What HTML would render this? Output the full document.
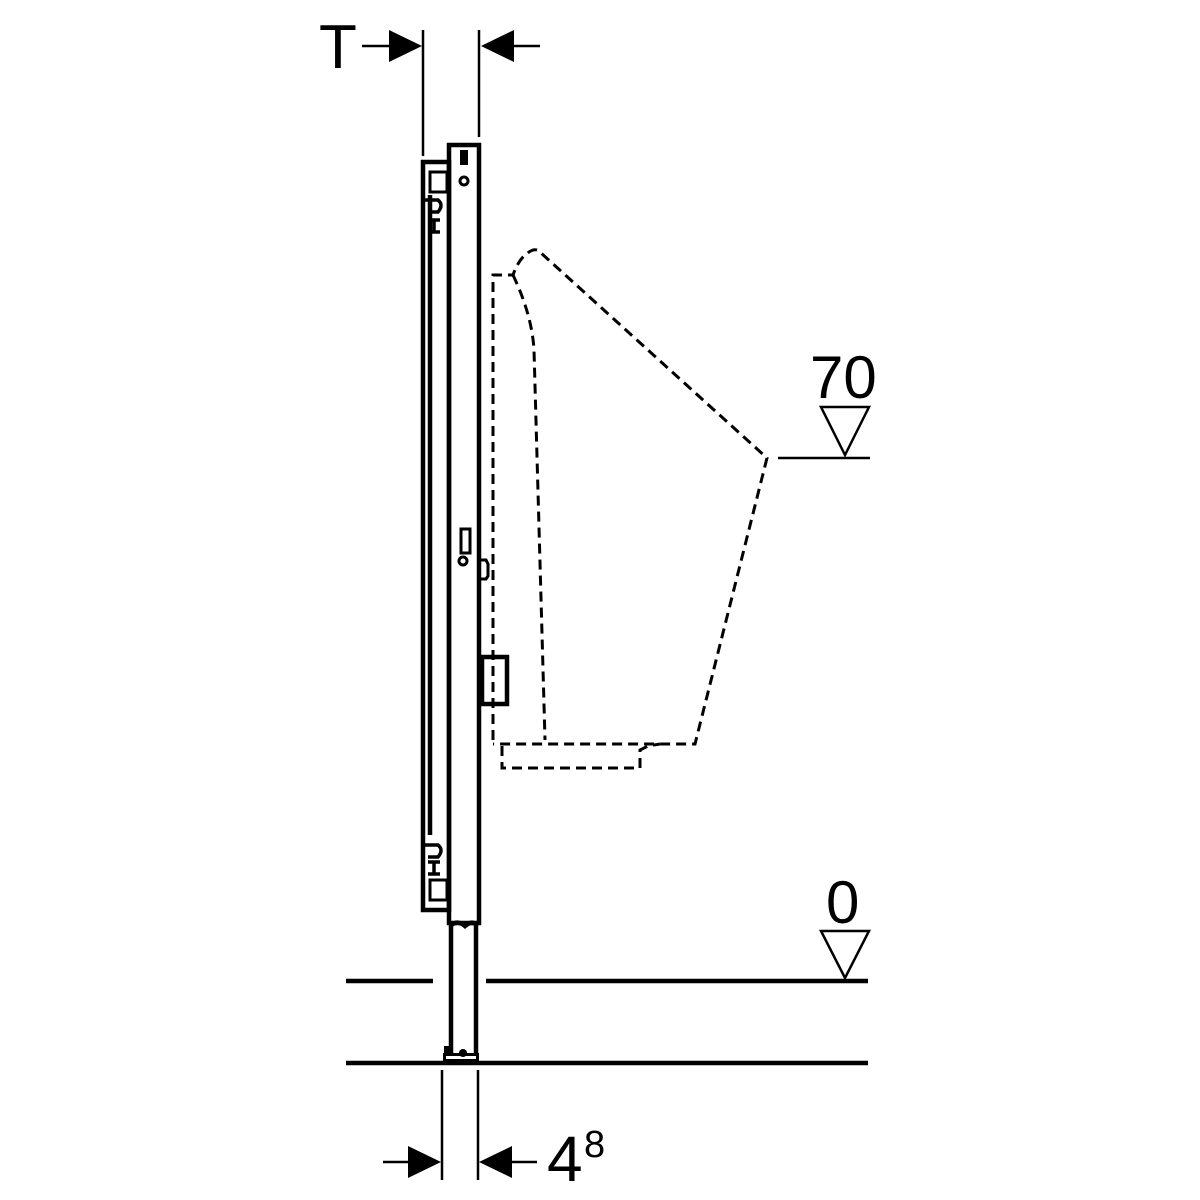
<!DOCTYPE html>
<html><head><style>html,body{margin:0;padding:0;background:#fff}svg{display:block}</style></head>
<body>
<svg width="1200" height="1200" viewBox="0 0 1200 1200" xmlns="http://www.w3.org/2000/svg" font-family="Liberation Sans, sans-serif">
<rect width="1200" height="1200" fill="#fff"/>
<!-- top dimension -->
<text x="319" y="68" font-size="62">T</text>
<line x1="362" y1="46" x2="392" y2="46" stroke="#000" stroke-width="2.5"/>
<polygon points="389,30 422,46 389,62" fill="#000"/>
<line x1="423" y1="30" x2="423" y2="156" stroke="#000" stroke-width="2.5"/>
<line x1="479" y1="30" x2="479" y2="137" stroke="#000" stroke-width="2.5"/>
<polygon points="514,30 481,46 514,62" fill="#000"/>
<line x1="512" y1="46" x2="540" y2="46" stroke="#000" stroke-width="2.5"/>
<!-- bottom dimension -->
<line x1="442" y1="1070" x2="442" y2="1180" stroke="#000" stroke-width="2.5"/>
<line x1="478" y1="1070" x2="478" y2="1180" stroke="#000" stroke-width="2.5"/>
<line x1="383" y1="1162" x2="410" y2="1162" stroke="#000" stroke-width="2.5"/>
<polygon points="408,1146 441,1162 408,1178" fill="#000"/>
<polygon points="512,1146 479,1162 512,1178" fill="#000"/>
<line x1="510" y1="1162" x2="537" y2="1162" stroke="#000" stroke-width="2.5"/>
<text x="547" y="1181" font-size="64">4</text>
<text x="584" y="1157" font-size="38">8</text>
<!-- floor lines -->
<line x1="346" y1="981" x2="433" y2="981" stroke="#000" stroke-width="4.5"/>
<line x1="486" y1="981" x2="868" y2="981" stroke="#000" stroke-width="4.5"/>
<line x1="346" y1="1063" x2="868" y2="1063" stroke="#000" stroke-width="4.5"/>
<!-- levels -->
<text x="810" y="398" font-size="60">70</text>
<polygon points="821,407 869,407 845,455" fill="none" stroke="#000" stroke-width="2.5"/>
<line x1="778" y1="458" x2="870" y2="458" stroke="#000" stroke-width="2.5"/>
<text x="826" y="923" font-size="60">0</text>
<polygon points="821,931 869,931 845,978" fill="none" stroke="#000" stroke-width="2.5"/>
<!-- frame -->
<g fill="none" stroke="#000" stroke-width="4.5">
<rect x="449" y="145" width="30" height="778"/>
<rect x="423" y="162" width="26" height="748"/>
<line x1="430" y1="195" x2="430" y2="835"/>
<path d="M451,923 L451,1058 M476,923 L476,1058"/>
<path d="M451,925 Q458,920 465,926 Q472,920 477,925"/>
<rect x="482" y="657" width="25" height="47"/>
<rect x="461" y="529" width="9" height="24" stroke-width="3"/>
<path d="M479,560 L486,560 L488,564 L488,576 L486,579 L479,579" stroke-width="3"/>
<rect x="430" y="172" width="17" height="20" stroke-width="3"/>
<rect x="430" y="880" width="17" height="20" stroke-width="3"/>
</g>
<rect x="460" y="150" width="8" height="15" fill="#000"/>
<circle cx="464" cy="181" r="4" fill="none" stroke="#000" stroke-width="3"/>
<circle cx="463" cy="561" r="4" fill="none" stroke="#000" stroke-width="3"/>
<g stroke="#000" stroke-width="3.5" fill="none">
<path d="M425,200 L438,200 Q444,205 438,212 L428,212"/>
<path d="M428,220 L440,220 M428,232 L440,232 M434,220 L434,232"/>
<path d="M425,845 L438,845 Q444,850 438,857 L428,857"/>
<path d="M428,862 L440,862 M428,874 L440,874 M434,862 L434,874"/>
</g>
<rect x="443" y="1053" width="36" height="8" fill="#000"/>
<rect x="446" y="1056" width="30" height="3" fill="#fff"/>
<circle cx="463" cy="1053" r="4" fill="#000"/>
<rect x="444" y="1046" width="5" height="8" fill="#000"/>
<!-- urinal dashed -->
<g fill="none" stroke="#000" stroke-width="3" stroke-dasharray="10,6">
<path d="M493,740 L493,275 L513,275 Q520,255 533,250 Q538,249 541,253 L767,458 L695,744 L493,744"/>
<path d="M513,275 Q532,315 534,350 L545,740"/>
<path d="M502,746 L502,768 L640,768 L640,750 L648,746 L660,744"/>
</g>
</svg>
</body></html>
